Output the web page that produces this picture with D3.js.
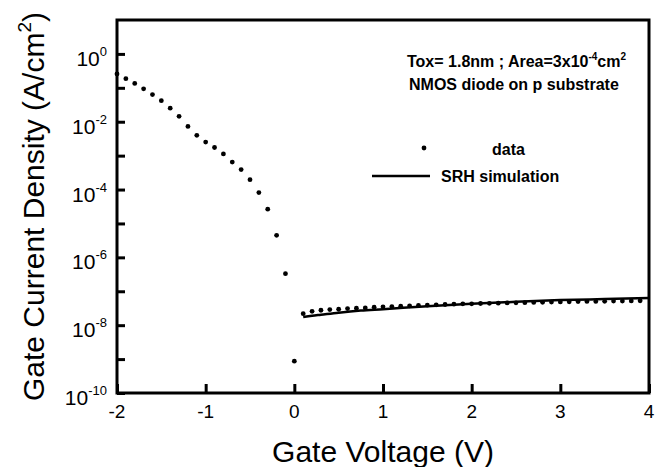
<!DOCTYPE html>
<html>
<head>
<meta charset="utf-8">
<script src="https://cdn.jsdelivr.net/npm/d3@7"></script>
<style>
  body { margin: 0; background: #fff; }
  text { font-family: "Liberation Sans", Arial, sans-serif; fill: #000; }
</style>
</head>
<body>
<script>
// measured gate current (log10 of A/cm^2) vs gate voltage
var dataV = [-2.0, -1.9, -1.8, -1.7, -1.6, -1.5, -1.4, -1.3, -1.2, -1.1, -1.0,
             -0.9, -0.8, -0.7, -0.6, -0.5, -0.4, -0.3, -0.2, -0.1, 0.0,
             0.1, 0.2, 0.3, 0.4, 0.5, 0.6, 0.7, 0.8, 0.9, 1.0,
             1.1, 1.2, 1.3, 1.4, 1.5, 1.6, 1.7, 1.8, 1.9, 2.0,
             2.1, 2.2, 2.3, 2.4, 2.5, 2.6, 2.7, 2.8, 2.9, 3.0,
             3.1, 3.2, 3.3, 3.4, 3.5, 3.6, 3.7, 3.8, 3.9];
var dataLogJ = [-0.59, -0.73, -0.87, -1.03, -1.20, -1.38, -1.60, -1.84, -2.14, -2.40, -2.60,
                -2.76, -2.95, -3.19, -3.41, -3.71, -4.09, -4.58, -5.35, -6.48, -9.06,
                -7.66, -7.59, -7.56, -7.54, -7.53, -7.51, -7.50, -7.49, -7.47, -7.46,
                -7.45, -7.44, -7.43, -7.42, -7.41, -7.40, -7.39, -7.38, -7.37, -7.37,
                -7.36, -7.355, -7.35, -7.345, -7.34, -7.335, -7.33, -7.325, -7.32, -7.315,
                -7.31, -7.305, -7.30, -7.30, -7.295, -7.29, -7.29, -7.285, -7.28];

// SRH simulation curve
var simV = [0.1, 0.2, 0.3, 0.5, 0.75, 1.0, 1.5, 2.0, 2.5, 3.0, 3.5, 4.0];
var simLogJ = [-7.76, -7.72, -7.69, -7.63, -7.57, -7.53, -7.44, -7.37, -7.31, -7.26, -7.23, -7.20];

var xTicks = [-2, -1, 0, 1, 2, 3, 4];
var yLabelExp = [-10, -8, -6, -4, -2, 0];
var yTickExp = [-10, -9, -8, -7, -6, -5, -4, -3, -2, -1, 0];

var width = 656, height = 467;
var plotLeft = 117, plotRight = 649, plotTop = 20, plotBottom = 393;

var svg = d3.select("body").append("svg")
    .attr("width", width)
    .attr("height", height);

var x = d3.scaleLinear().domain([-2, 4]).range([plotLeft, plotRight]);
var y = d3.scaleLog().domain([1e-10, 10]).range([plotBottom, plotTop]);

// ticks (inward)
svg.append("g")
    .attr("transform", "translate(" + plotLeft + ",0)")
    .call(d3.axisLeft(y).tickValues(yTickExp.map(function(e) { return Math.pow(10, e); }))
        .tickSize(-8).tickFormat(""))
    .call(function(g) {
        g.select(".domain").remove();
        g.selectAll("line").attr("stroke-width", 3);
    });

svg.append("g")
    .attr("transform", "translate(0," + plotBottom + ")")
    .call(d3.axisBottom(x).tickValues(xTicks).tickSize(-9).tickFormat(""))
    .call(function(g) {
        g.select(".domain").remove();
        g.selectAll("line").attr("stroke-width", 3);
    });

// frame
svg.append("rect")
    .attr("x", plotLeft).attr("y", plotTop)
    .attr("width", plotRight - plotLeft).attr("height", plotBottom - plotTop)
    .attr("fill", "none").attr("stroke", "#000").attr("stroke-width", 3);

// y tick labels 10^n
var yl = svg.append("g").selectAll("text")
    .data(yLabelExp)
    .enter().append("text")
    .attr("x", 107)
    .attr("y", function(d) { return y(Math.pow(10, d)) + 12; })
    .attr("text-anchor", "end")
    .style("font-size", "21px");
yl.append("tspan").text("10");
yl.append("tspan")
    .attr("dy", -10)
    .style("font-size", "13px")
    .text(function(d) { return d === 0 ? "0" : "-" + Math.abs(d); });

// x tick labels
svg.append("g").selectAll("text")
    .data(xTicks)
    .enter().append("text")
    .attr("x", function(d) { return x(d); })
    .attr("y", plotBottom + 25)
    .attr("text-anchor", "middle")
    .style("font-size", "19px")
    .text(function(d) { return d; });

// axis titles
svg.append("text")
    .attr("x", 383)
    .attr("y", 462)
    .attr("text-anchor", "middle")
    .style("font-size", "30px")
    .text("Gate Voltage (V)");

var yt = svg.append("text")
    .attr("transform", "translate(44," + ((plotTop + plotBottom) / 2) + ") rotate(-90)")
    .attr("text-anchor", "middle")
    .style("font-size", "30px");
yt.append("tspan").text("Gate Current Density (A/cm");
yt.append("tspan").attr("dy", -13).style("font-size", "19px").text("2");
yt.append("tspan").attr("dy", 13).text(")");

// simulation line
var line = d3.line()
    .x(function(d) { return x(d[0]); })
    .y(function(d) { return y(Math.pow(10, d[1])); })
    .curve(d3.curveMonotoneX);

svg.append("path")
    .datum(d3.zip(simV, simLogJ))
    .attr("d", line)
    .attr("fill", "none")
    .attr("stroke", "#000")
    .attr("stroke-width", 2.5);

// data dots
svg.append("g").selectAll("circle")
    .data(d3.zip(dataV, dataLogJ))
    .enter().append("circle")
    .attr("cx", function(d) { return x(d[0]); })
    .attr("cy", function(d) { return y(Math.pow(10, d[1])); })
    .attr("r", 2.4)
    .attr("fill", "#000");

// annotation
var ann = svg.append("g").style("font-weight", "bold").style("font-size", "16px");
var a1 = ann.append("text").attr("x", 407).attr("y", 67);
a1.append("tspan").text("Tox= 1.8nm ; Area=3x10");
a1.append("tspan").attr("dy", -7).style("font-size", "10px").text("-4");
a1.append("tspan").attr("dy", 7).text("cm");
a1.append("tspan").attr("dy", -7).style("font-size", "10px").text("2");
ann.append("text").attr("x", 409).attr("y", 90).text("NMOS diode on p substrate");

// legend
svg.append("circle").attr("cx", 424).attr("cy", 148).attr("r", 2.4).attr("fill", "#000");
ann.append("text").attr("x", 492).attr("y", 155).text("data");
svg.append("line")
    .attr("x1", 372).attr("x2", 430).attr("y1", 176).attr("y2", 176)
    .attr("stroke", "#000").attr("stroke-width", 2.5);
ann.append("text").attr("x", 441).attr("y", 182).text("SRH simulation");
</script>
</body>
</html>
